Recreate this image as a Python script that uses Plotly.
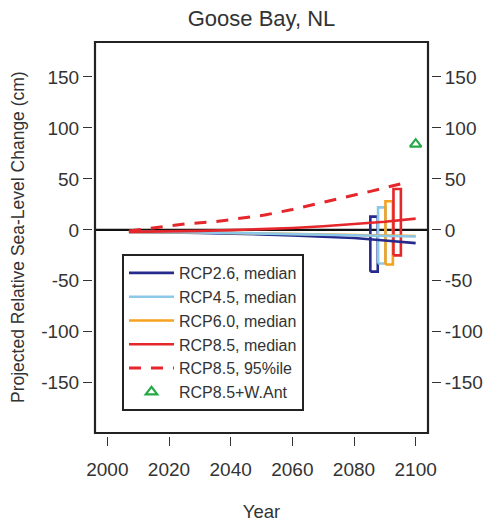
import plotly.graph_objects as go

# ---- data ----
years = [2007, 2015, 2020, 2030, 2040, 2050, 2060, 2070, 2080, 2090, 2100]
rcp26_median = [-2, -2, -2.5, -3, -3.5, -4.5, -5.5, -6.5, -8, -10.5, -13]
rcp45_median = [-2, -2, -2.2, -2.5, -3, -3.5, -4, -4.5, -5, -5.8, -6.5]
rcp60_median = [-2, -2, -2.2, -2.5, -3, -3.4, -3.8, -4.3, -4.8, -5.4, -6]
rcp85_median = [-2, -1.8, -1.5, -1, -0.3, 0.5, 1.8, 3.5, 5.5, 8, 11]
rcp85_p95_years = [2007, 2017, 2026, 2035, 2043, 2051, 2060, 2068, 2077, 2085, 2095]
rcp85_p95 = [-1, 3, 6, 8, 11, 14.5, 20, 26, 32, 37.5, 45]

scenario_names = ["RCP2.6", "RCP4.5", "RCP6.0", "RCP8.5"]
range_low = [-41, -33, -34, -25]
range_high = [13, 22, 28, 40]

wais_year = [2100]
wais_value = [84]

x_ticks = [2000, 2020, 2040, 2060, 2080, 2100]
y_ticks = [-150, -100, -50, 0, 50, 100, 150]
y_tick_labels = ["-150", "-100", "-50", "0", "50", "100", "150"]

# ---- styles ----
colors = {"RCP2.6": "#262a8c", "RCP4.5": "#8cc8e8", "RCP6.0": "#f5a21e", "RCP8.5": "#e5262b"}
green = "#25a845"
box_centers = [2086.5, 2089.0, 2091.4, 2094.0]
box_half = 1.2
lw = 2.6
FONT = "Liberation Sans, Arial, sans-serif"
TXT = "#333333"

fig = go.Figure()

# range boxes
for name, c, lo, hi in zip(scenario_names, box_centers, range_low, range_high):
    xl, xr = c - box_half, c + box_half
    fig.add_trace(go.Scatter(x=[xl, xl, xr, xr, xl], y=[lo, hi, hi, lo, lo], mode="lines",
                             line=dict(color=colors[name], width=lw), showlegend=False,
                             hoverinfo="skip"))

# median lines
fig.add_trace(go.Scatter(x=years, y=rcp26_median, mode="lines", name="RCP2.6, median",
                         line=dict(color=colors["RCP2.6"], width=lw), legendrank=1))
fig.add_trace(go.Scatter(x=years, y=rcp60_median, mode="lines", name="RCP6.0, median",
                         line=dict(color=colors["RCP6.0"], width=lw), legendrank=3))
fig.add_trace(go.Scatter(x=years, y=rcp45_median, mode="lines", name="RCP4.5, median",
                         line=dict(color=colors["RCP4.5"], width=lw), legendrank=2))
fig.add_trace(go.Scatter(x=years, y=rcp85_median, mode="lines", name="RCP8.5, median",
                         line=dict(color=colors["RCP8.5"], width=lw), legendrank=4))
fig.add_trace(go.Scatter(x=rcp85_p95_years, y=rcp85_p95, mode="lines", name="RCP8.5, 95%ile",
                         line=dict(color=colors["RCP8.5"], width=lw + 0.4, dash="12px,10px"),
                         legendrank=5))
fig.add_trace(go.Scatter(x=wais_year, y=wais_value, mode="markers", name="RCP8.5+W.Ant",
                         marker=dict(symbol="triangle-up-open", size=10, color=green,
                                     line=dict(color=green, width=2.2)), legendrank=6))

# right axis dummy (keeps axis active)
fig.add_trace(go.Scatter(x=[2000], y=[0], yaxis="y2", mode="markers",
                         marker=dict(opacity=0), showlegend=False, hoverinfo="skip"))

W, H = 490, 527
ml, mr, mt, mb = 92, 59, 42, 91
pw, ph = W - ml - mr, H - mt - mb
gap = 3

xr_ = [1996, 2104]
yr_ = [-199.2, 184.2]

axis_common = dict(showgrid=False, zeroline=False, showline=False, ticks="outside",
                   ticklen=9, tickwidth=1.3, tickcolor="#333",
                   tickfont=dict(family=FONT, size=19, color=TXT))

fig.update_layout(
    width=W, height=H,
    margin=dict(l=ml, r=mr, t=mt, b=mb, autoexpand=False),
    paper_bgcolor="white", plot_bgcolor="white",
    title=dict(text="Goose Bay, NL", x=(95 + 428) / 2 / W, xanchor="center",
               y=1 - 18 / H, yanchor="middle",
               font=dict(family=FONT, size=22, color=TXT)),
    xaxis=dict(range=xr_, domain=[gap / pw, 1 - gap / pw], anchor="free", position=0,
               tickvals=x_ticks, ticklabelstandoff=7,
               title=dict(text="Year", font=dict(family=FONT, size=18.5, color=TXT), standoff=26),
               **axis_common),
    yaxis=dict(range=yr_, domain=[gap / ph, 1], anchor="free", position=0,
               tickvals=y_ticks, ticktext=y_tick_labels,
               **axis_common),
    yaxis2=dict(range=yr_, overlaying="y", side="right", anchor="free", position=1,
                tickvals=y_ticks, ticktext=y_tick_labels, **axis_common),
    legend=dict(x=(122 - ml) / pw, y=(H - mb - 254) / ph, xanchor="left", yanchor="top",
                bordercolor="#222", borderwidth=2, bgcolor="white",
                font=dict(family=FONT, size=16, color=TXT),
                tracegroupgap=0, itemwidth=45),
    showlegend=True,
)

# y-axis title
fig.add_annotation(text="Projected Relative Sea-Level Change (cm)", textangle=-90,
                   xref="paper", yref="paper", x=(18 - ml) / pw, y=(H - mb - 237) / ph,
                   xanchor="center", yanchor="middle", showarrow=False,
                   font=dict(family=FONT, size=17.5, color=TXT))

# frame and zero line
fig.add_shape(type="line", xref="x domain", yref="y", x0=0, x1=1, y0=0, y1=0,
              line=dict(color="#111", width=2.2), layer="below")
fig.add_shape(type="rect", xref="x domain", yref="y domain", x0=0, x1=1, y0=0, y1=1,
              line=dict(color="#222", width=2.2), layer="above")

fig.write_html("out.html", config={"displayModeBar": False},
               post_script="document.body.style.margin='0';document.body.style.padding='0';")
